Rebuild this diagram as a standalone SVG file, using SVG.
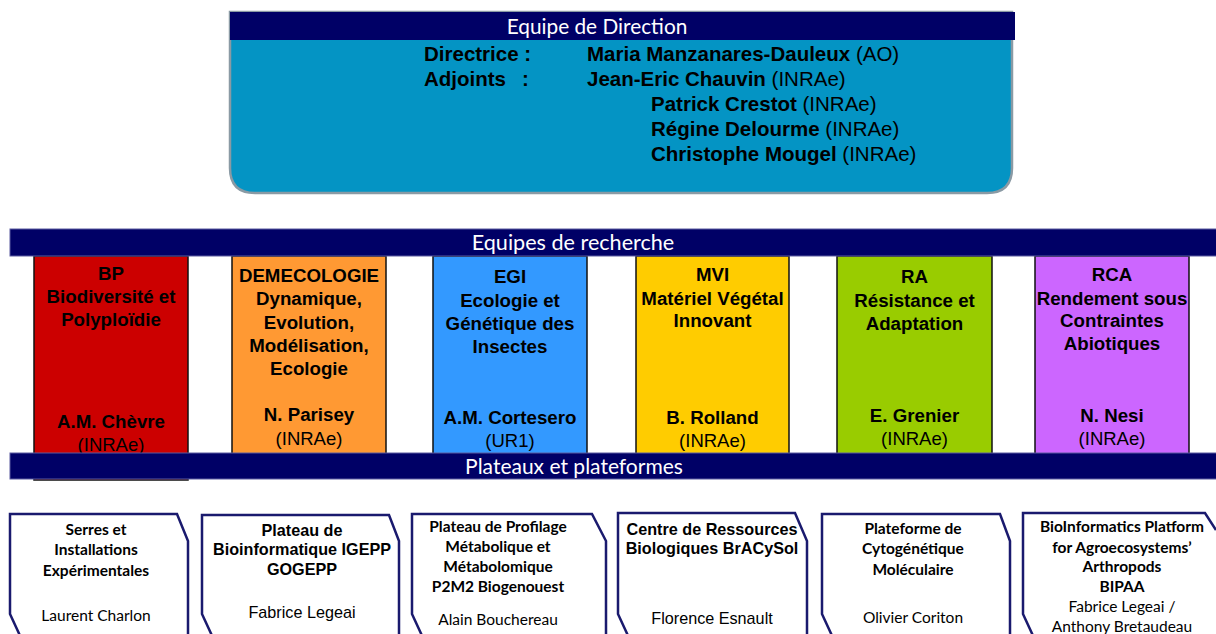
<svg xmlns="http://www.w3.org/2000/svg" width="1216" height="634" viewBox="0 0 1216 634">
<style>
.hd{font-family:"Lato","Liberation Sans",sans-serif;font-size:21px;fill:#fff;text-anchor:middle}
.dir{font-family:"Liberation Sans",Arial,sans-serif;font-size:20.5px;fill:#000}
.b{font-weight:bold}
.tt{font-family:"Liberation Sans",Arial,sans-serif;font-size:18.7px;font-weight:bold;fill:#000;text-anchor:middle}
.tn{font-family:"Liberation Sans",Arial,sans-serif;font-size:18.5px;fill:#000;text-anchor:middle}
.team{stroke:#111;stroke-width:1.5}
.bar{fill:#000066;stroke:#5a5aa0;stroke-width:1}
.pf{fill:#fff;stroke:#1a1a6e;stroke-width:2.5;stroke-linejoin:miter}
.pa{font-family:"Liberation Sans",Arial,sans-serif;font-size:16.2px;font-weight:bold;fill:#000;text-anchor:middle}
.pan{font-family:"Liberation Sans",Arial,sans-serif;font-size:16.2px;fill:#000;text-anchor:middle}
.pc{font-family:"Lato","Liberation Sans",sans-serif;font-size:15.5px;font-weight:bold;fill:#000;text-anchor:middle}
.pcn{font-family:"Lato","Liberation Sans",sans-serif;font-size:15.5px;fill:#000;text-anchor:middle}
</style>
<rect width="1216" height="634" fill="#fff"/>

<g id="direction">
  <path d="M230,12 H1012 V168 Q1012,193 987,193 H255 Q230,193 230,168 Z" fill="#0494C4" stroke="#8a9aa4" stroke-width="2.5"/>
  <rect x="230" y="12" width="785" height="28" fill="#000066"/>
  <text class="hd" x="597" y="34" style="font-size:20.8px">Equipe de Direction</text>
  <text class="dir b" x="424" y="61">Directrice :</text>
  <text class="dir" x="587" y="61"><tspan class="b">Maria Manzanares-Dauleux</tspan> (AO)</text>
  <text class="dir b" x="424" y="86">Adjoints</text>
  <text class="dir b" x="522" y="86">:</text>
  <text class="dir" x="587" y="86"><tspan class="b">Jean-Eric Chauvin</tspan> (INRAe)</text>
  <text class="dir" x="651" y="111"><tspan class="b">Patrick Crestot</tspan> (INRAe)</text>
  <text class="dir" x="651" y="136"><tspan class="b">Régine Delourme</tspan> (INRAe)</text>
  <text class="dir" x="651" y="161"><tspan class="b">Christophe Mougel</tspan> (INRAe)</text>
</g>

<g id="team-bp">
  <rect class="team" x="34" y="256" width="154" height="224" fill="#CC0000"/>
  <text class="tt" x="111" y="280">BP</text>
  <text class="tt" x="111" y="303">Biodiversité et</text>
  <text class="tt" x="111" y="326">Polyploïdie</text>
  <text class="tt" x="111" y="428">A.M. Chèvre</text>
  <text class="tn" x="111" y="451">(INRAe)</text>
</g>
<g id="team-demecologie">
  <rect class="team" x="232" y="256" width="154" height="198" fill="#FF9933"/>
  <text class="tt" x="309" y="282">DEMECOLOGIE</text>
  <text class="tt" x="309" y="305">Dynamique,</text>
  <text class="tt" x="309" y="329">Evolution,</text>
  <text class="tt" x="309" y="352">Modélisation,</text>
  <text class="tt" x="309" y="375">Ecologie</text>
  <text class="tt" x="309" y="421">N. Parisey</text>
  <text class="tn" x="309" y="445">(INRAe)</text>
</g>
<g id="team-egi">
  <rect class="team" x="433" y="256" width="154" height="198" fill="#3399FF"/>
  <text class="tt" x="510" y="283">EGI</text>
  <text class="tt" x="510" y="307">Ecologie et</text>
  <text class="tt" x="510" y="330">Génétique des</text>
  <text class="tt" x="510" y="353">Insectes</text>
  <text class="tt" x="510" y="424">A.M. Cortesero</text>
  <text class="tn" x="510" y="447">(UR1)</text>
</g>
<g id="team-mvi">
  <rect class="team" x="636" y="256" width="153" height="198" fill="#FFCC00"/>
  <text class="tt" x="712.5" y="281">MVI</text>
  <text class="tt" x="712.5" y="305">Matériel Végétal</text>
  <text class="tt" x="712.5" y="327">Innovant</text>
  <text class="tt" x="712.5" y="424">B. Rolland</text>
  <text class="tn" x="712.5" y="447">(INRAe)</text>
</g>
<g id="team-ra">
  <rect class="team" x="837" y="256" width="155" height="198" fill="#99CC00"/>
  <text class="tt" x="914.5" y="283">RA</text>
  <text class="tt" x="914.5" y="307">Résistance et</text>
  <text class="tt" x="914.5" y="330">Adaptation</text>
  <text class="tt" x="914.5" y="422">E. Grenier</text>
  <text class="tn" x="914.5" y="445">(INRAe)</text>
</g>
<g id="team-rca">
  <rect class="team" x="1035" y="256" width="154" height="198" fill="#CC66FF"/>
  <text class="tt" x="1112" y="281">RCA</text>
  <text class="tt" x="1112" y="305">Rendement sous</text>
  <text class="tt" x="1112" y="327">Contraintes</text>
  <text class="tt" x="1112" y="350">Abiotiques</text>
  <text class="tt" x="1112" y="422">N. Nesi</text>
  <text class="tn" x="1112" y="445">(INRAe)</text>
</g>

<g id="bar-recherche">
  <rect class="bar" x="10" y="229" width="1210" height="27"/>
  <text class="hd" x="573" y="250" style="font-size:21.6px">Equipes de recherche</text>
</g>
<g id="bar-plateaux">
  <rect class="bar" x="10" y="453" width="1210" height="26"/>
  <text class="hd" x="574" y="474">Plateaux et plateformes</text>
</g>

<g id="pf-serres">
  <path class="pf" d="M22,640 L10,614 L10,514 L177,514 L188,541 L188,640"/>
  <text class="pc" x="96" y="535">Serres et</text>
  <text class="pc" x="96" y="555">Installations</text>
  <text class="pc" x="96" y="576">Expérimentales</text>
  <text class="pcn" x="96" y="621">Laurent Charlon</text>
</g>
<g id="pf-bioinfo">
  <path class="pf" d="M214,640 L202,614 L202,515 L389,515 L399,541 L399,640"/>
  <text class="pa" x="302" y="536">Plateau de</text>
  <text class="pa" x="302" y="555">Bioinformatique IGEPP</text>
  <text class="pa" x="302" y="575">GOGEPP</text>
  <text class="pan" x="302" y="618">Fabrice Legeai</text>
</g>
<g id="pf-p2m2">
  <path class="pf" d="M424,640 L412,614 L412,514 L592,514 L606,541 L606,640"/>
  <text class="pc" x="498" y="532">Plateau de Profilage</text>
  <text class="pc" x="498" y="552">Métabolique et</text>
  <text class="pc" x="498" y="572">Métabolomique</text>
  <text class="pc" x="498" y="592">P2M2 Biogenouest</text>
  <text class="pcn" x="498" y="625">Alain Bouchereau</text>
</g>
<g id="pf-crb">
  <path class="pf" d="M630,640 L618,614 L618,513 L795,513 L807,541 L807,640"/>
  <text class="pa" x="712" y="535">Centre de Ressources</text>
  <text class="pa" x="712" y="554">Biologiques  BrACySol</text>
  <text class="pan" x="712" y="624">Florence  Esnault</text>
</g>
<g id="pf-cyto">
  <path class="pf" d="M834,640 L822,614 L822,514 L1000,514 L1010,541 L1010,640"/>
  <text class="pc" x="913" y="534">Plateforme de</text>
  <text class="pc" x="913" y="554">Cytogénétique</text>
  <text class="pc" x="913" y="575">Moléculaire</text>
  <text class="pcn" x="913" y="623">Olivier Coriton</text>
</g>
<g id="pf-bipaa">
  <path class="pf" d="M1035,640 L1023,614 L1023,513 L1205,513 L1216,530"/>
  <text class="pc" x="1122" y="532">BioInformatics Platform</text>
  <text class="pc" x="1122" y="553">for Agroecosystems’</text>
  <text class="pc" x="1122" y="572">Arthropods</text>
  <text class="pc" x="1122" y="592">BIPAA</text>
  <text class="pcn" x="1122" y="612">Fabrice Legeai  /</text>
  <text class="pcn" x="1122" y="632">Anthony Bretaudeau</text>
</g>
</svg>
